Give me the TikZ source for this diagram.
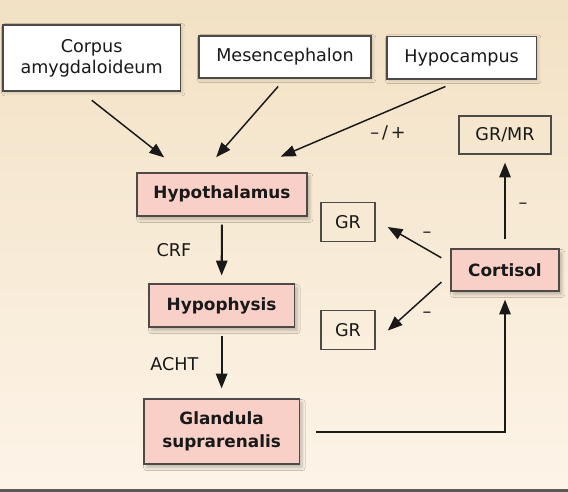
\documentclass[tikz,border=0pt]{standalone}
\usepackage{fontspec}
\setmainfont{DejaVu Sans}
\usetikzlibrary{arrows.meta,calc,shadows.blur}
\definecolor{bgtop}{HTML}{F2E1C4}
\definecolor{bgbot}{HTML}{FDF4E8}
\definecolor{rosa}{HTML}{F9D0C7}
\definecolor{rand}{HTML}{4D4A47}
\tikzset{
	kasten/.style={draw=rand, line width=0.9pt, align=center, inner sep=0pt, text=black!90, font=\fontsize{12.5}{15}\selectfont},
	weiss/.style={kasten, fill=white, blur shadow={shadow xshift=1.2pt, shadow yshift=-1.2pt, shadow blur steps=5, shadow opacity=18}},
	rosabox/.style={kasten, fill=rosa, font=\fontsize{12}{16.5}\selectfont\bfseries, blur shadow={shadow xshift=2pt, shadow yshift=-2.5pt, shadow blur steps=6, shadow opacity=25}},
	leer/.style={kasten, line width=0.8pt},
	schrift/.style={text=black!90, font=\fontsize{12.5}{15}\selectfont},
	pfeil/.style={-{Triangle[length=10.5pt,width=8pt]}, line width=1.05pt, draw=black!90},
	dick/.style={pfeil, line width=1.45pt}
}

\begin{document}
\begin{tikzpicture}
	\useasboundingbox (0,0) rectangle (14.2,12.3);
	\shade[top color=bgtop, bottom color=bgbot] (0,0) rectangle (14.2,12.3);
	\fill[black!65] (0,0) rectangle (14.2,0.075);

	\node[weiss, minimum width=4.43cm, minimum height=1.65cm] (corpus) at (2.29,10.85) {Corpus\\amygdaloideum};
	\node[weiss, minimum width=4.3cm, minimum height=1.05cm] (mesenc) at (7.125,10.875) {Mesencephalon};
	\node[weiss, minimum width=3.73cm, minimum height=1.07cm] (hippo) at (11.54,10.86) {Hypocampus};
	\node[leer, minimum width=2.3cm, minimum height=0.95cm] (grmr) at (12.625,8.925) {GR/MR};

	\node[rosabox, minimum width=4.25cm, minimum height=1.075cm] (hypothal) at (5.55,7.44) {Hypothalamus};
	\node[leer, minimum width=1.35cm, minimum height=0.975cm] (groben) at (8.7,6.74) {GR};
	\node[rosabox, minimum width=2.7cm, minimum height=1.05cm] (cortisol) at (12.625,5.55) {Cortisol};
	\node[rosabox, minimum width=3.63cm, minimum height=1.075cm] (hypoph) at (5.54,4.66) {Hypophysis};
	\node[leer, minimum width=1.35cm, minimum height=0.975cm] (grunten) at (8.7,4.04) {GR};
	\node[rosabox, minimum width=3.88cm, minimum height=1.625cm] (glandula) at (5.54,1.51) {Glandula\\suprarenalis};

	\draw[pfeil, shorten <=0.35cm, shorten >=0.6cm] ([xshift=-0.27cm]corpus.south) -- ([xshift=-0.975cm]hypothal.north);
	\draw[pfeil, shorten <=0.26cm, shorten >=0.5cm] (mesenc.south) -- ([xshift=-0.475cm]hypothal.north);
	\draw[pfeil, shorten <=0.44cm, shorten >=1cm] (hippo.south) -- ([xshift=0.55cm]hypothal.north);
	\node[schrift] (vz) at (9.7,8.975) {–\,/\,+};

	\draw[dick, shorten <=0.2cm, shorten >=0.2cm] (hypothal.south) -- (hypoph.north);
	\node[schrift] (crf) at (4.35,6.05) {CRF};
	\draw[dick, shorten <=0.2cm, shorten >=0.25cm] (hypoph.south) -- (glandula.north);
	\node[schrift] (acht) at (4.36,3.2) {ACHT};
	\draw[dick, shorten <=0.4cm, shorten >=0.2cm] (glandula.east) -| (cortisol.south);

	\draw[dick, shorten <=0.225cm, shorten >=0.2cm] (cortisol.north) -- (grmr.south);
	\node[schrift] (mgrmr) at (13.075,7.15) {–};
	\draw[pfeil, shorten <=0.26cm, shorten >=0.35cm] ([yshift=0.175cm]cortisol.west) -- ([yshift=0.06cm]groben.east);
	\node[schrift] (moben) at (10.675,6.425) {–};
	\draw[pfeil, shorten <=0.3cm, shorten >=0.41cm] ([yshift=-0.1cm]cortisol.west) -- ([yshift=-0.28cm]grunten.east);
	\node[schrift] (munten) at (10.675,4.425) {–};
\end{tikzpicture}
\end{document}
